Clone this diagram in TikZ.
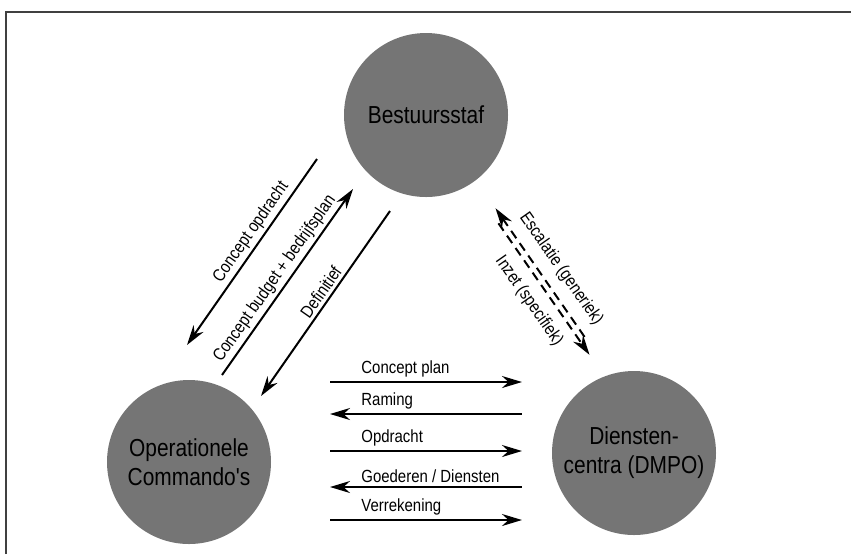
\documentclass[tikz,border=0pt]{standalone}
\usepackage{fontspec}
\setsansfont{Liberation Sans}
\newfontfamily\narrowsf[FakeStretch=0.85]{Liberation Sans}
\usetikzlibrary{arrows.meta,calc}
\tikzset{
  circ/.style={circle, fill=black!54, minimum size=82pt, inner sep=0pt, align=center, font=\narrowsf\fontsize{12.3}{14.5}\selectfont},
  arr/.style={-{Stealth[length=10pt,width=6pt]}, line width=1pt},
  rarr/.style={{Stealth[length=10pt,width=6pt]}-, line width=1pt},
  darr/.style={dash pattern=on 4.5pt off 3pt, line width=1pt},
  lbl/.style={font=\narrowsf\fontsize{8.8}{10}\selectfont, inner sep=1.5pt},
  frame/.style={line width=1pt, draw=black!75},
}

\begin{document}
\begin{tikzpicture}[x=0.5pt, y=-0.5pt]
\useasboundingbox (0,0) rectangle (851,554);
\draw[frame] (6,554) -- (6,12) -- (851,12);

% the three parties
\node[circ] (bs) at (426,115) {Bestuursstaf};
\node[circ] (oc) at (189,462) {Operationele\\Commando's};
\node[circ] (dc) at (634,453) {Diensten-\\centra (DMPO)};

% staff <-> operational commands
\coordinate (a1) at (317,159); \coordinate (b1) at (187,345);
\coordinate (a2) at (222,375); \coordinate (b2) at (353,189);
\coordinate (a3) at (390,211); \coordinate (b3) at (261,396);
\draw[arr] (a1) -- node[lbl, sloped, above, pos=0.43] (l1) {Concept opdracht} (b1);
\draw[arr] (a2) -- node[lbl, sloped, above, pos=0.48] (l2) {Concept budget + bedrijfsplan} (b2);
\draw[arr] (a3) -- node[lbl, sloped, above, pos=0.47] (l3) {Definitief} (b3);

% staff <-> service centres
\coordinate (p) at (493,210); \coordinate (q) at (592,353);
\draw[darr, {Stealth[length=10pt,width=6pt]}-, shorten >=7pt] ($(p)+(2.5,-1.8)$) -- ($(q)+(2.5,-1.8)$);
\draw[darr, -{Stealth[length=10pt,width=6pt]}, shorten <=7pt] ($(p)+(-2.5,1.8)$) -- ($(q)+(-2.5,1.8)$);
\node[lbl, rotate=-55] (l4) at (561,269) {Escalatie (generiek)};
\node[lbl, rotate=-55] (l5) at (529,301) {Inzet (specifiek)};

% operational commands <-> service centres
\coordinate (h1l) at (330,382); \coordinate (h1r) at (522,382);
\coordinate (h2l) at (330,414); \coordinate (h2r) at (522,414);
\coordinate (h3l) at (330,451); \coordinate (h3r) at (522,451);
\coordinate (h4l) at (330,487); \coordinate (h4r) at (522,487);
\coordinate (h5l) at (330,520); \coordinate (h5r) at (522,520);
\draw[arr] (h1l) -- (h1r);
\draw[rarr] (h2l) -- (h2r);
\draw[arr] (h3l) -- (h3r);
\draw[rarr] (h4l) -- (h4r);
\draw[arr] (h5l) -- (h5r);
\node[lbl, anchor=south west] (m1) at ($(h1l)+(28,-1)$) {Concept plan};
\node[lbl, anchor=south west] (m2) at ($(h2l)+(28,-1)$) {Raming};
\node[lbl, anchor=south west] (m3) at ($(h3l)+(28,-1)$) {Opdracht};
\node[lbl, anchor=south west] (m4) at ($(h4l)+(28,-1)$) {Goederen / Diensten};
\node[lbl, anchor=south west] (m5) at ($(h5l)+(28,-1)$) {Verrekening};
\end{tikzpicture}
\end{document}
